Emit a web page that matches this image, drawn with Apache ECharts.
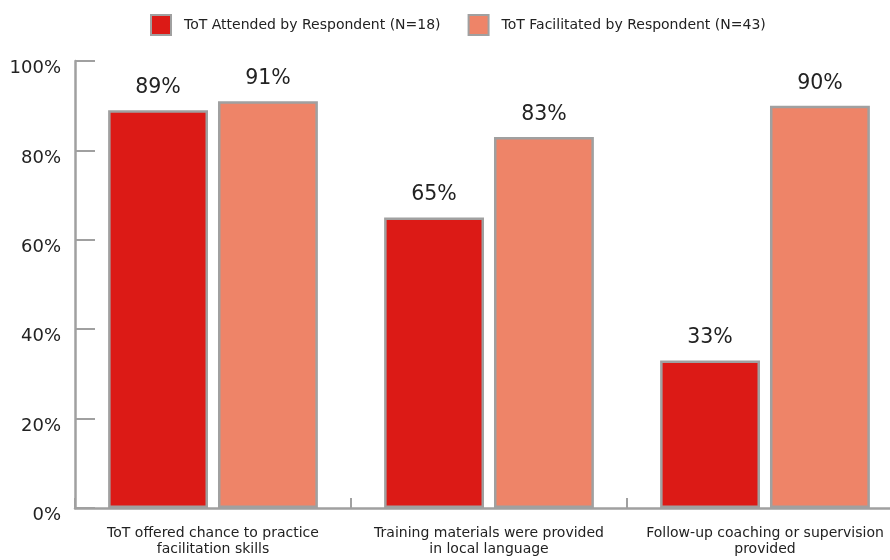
<!DOCTYPE html>
<html>
<head>
<meta charset="utf-8">
<script src="https://cdn.jsdelivr.net/npm/echarts@6/dist/echarts.min.js"></script>
<style>html,body{margin:0;padding:0;background:#fff}#c{width:890px;height:560px}</style>
</head>
<body>
<div id="c"></div>
<script>
var categories = [
  "ToT offered chance to practice\nfacilitation skills",
  "Training materials were provided\nin local language",
  "Follow-up coaching or supervision\nprovided"
];
var seriesNames = ["ToT Attended by Respondent (N=18)", "ToT Facilitated by Respondent (N=43)"];
var attended = [89, 65, 33];
var facilitated = [91, 83, 90];
var yTicks = [0, 20, 40, 60, 80, 100];

var FONT = "'DejaVu Sans', sans-serif";
var chart = echarts.init(document.getElementById('c'), null, {renderer: 'canvas'});
function mkSeries(name, data, color) {
  return {
    name: name, type: 'bar', data: data,
    barGap: '10%', barCategoryGap: '24%',
    itemStyle: {color: color, borderColor: '#a0a0a0', borderWidth: 2.5},
    label: {show: true, position: 'top', distance: 12, formatter: '{c}%',
      fontFamily: FONT, fontSize: 20.5, color: '#222'}
  };
}
chart.setOption({
  animation: false,
  textStyle: {fontFamily: FONT},
  legend: {
    top: 14, left: 150, itemGap: 27, itemWidth: 20, itemHeight: 20, padding: 0,
    textStyle: {fontFamily: FONT, fontSize: 14, color: '#222', padding: [0,0,0,8]},
    data: seriesNames.map(function(n){return {name:n, icon:'rect'};})
  },
  grid: {left: 75, width: 828, top: 61, bottom: 52, containLabel: false, outerBoundsMode: 'none'},
  xAxis: {
    type: 'category', data: categories,
    axisLine: {lineStyle: {color: '#a0a0a0', width: 2.5}},
    axisTick: {show: true, inside: true, length: 10, alignWithLabel: false, lineStyle: {color: '#a0a0a0', width: 2}},
    axisLabel: {fontFamily: FONT, fontSize: 14, color: '#222', lineHeight: 16, margin: 17, interval: 0}
  },
  yAxis: {
    type: 'value', min: 0, max: 100, interval: 20,
    splitLine: {show: false},
    axisLine: {show: true, lineStyle: {color: '#a0a0a0', width: 2.5}},
    axisTick: {show: true, inside: true, length: 20, lineStyle: {color: '#a0a0a0', width: 2}},
    axisLabel: {fontFamily: FONT, fontSize: 18, color: '#222', margin: 14, verticalAlign: 'top', lineHeight: 15,
      formatter: function(v){ return yTicks.indexOf(v) >= 0 ? v + '%' : ''; }}
  },
  series: [mkSeries(seriesNames[0], attended, '#dc1a16'), mkSeries(seriesNames[1], facilitated, '#ee8468')]
});
</script>
</body>
</html>
